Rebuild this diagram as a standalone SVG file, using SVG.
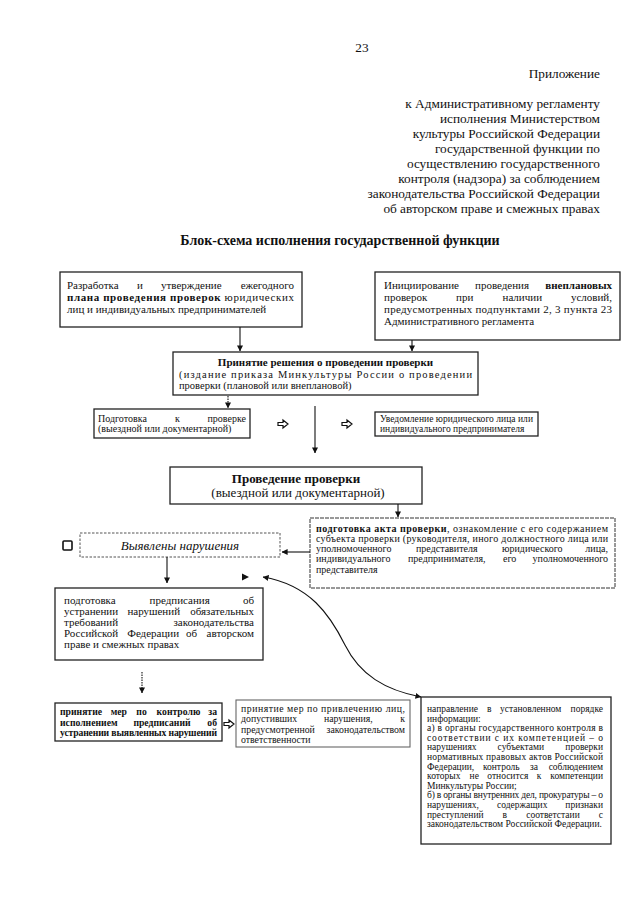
<svg xmlns="http://www.w3.org/2000/svg" width="640" height="905" viewBox="0 0 640 905">
<defs>
<marker id="ah" viewBox="0 0 8 8" refX="7.5" refY="4" markerWidth="6" markerHeight="6" markerUnits="userSpaceOnUse" orient="auto-start-reverse">
<path d="M0,0 L8,4 L0,8 z" fill="#111"/>
</marker>
<style>
.t{font-family:"Liberation Serif","Times New Roman",serif;fill:#111}
.box{fill:#fff;stroke:#222;stroke-width:1.3}
.dash{fill:#fff;stroke:#555;stroke-width:1;stroke-dasharray:2.5 1.5}
.gray{fill:#fff;stroke:#666;stroke-width:1.1}
.ln{fill:none;stroke:#111;stroke-width:1.1}
.dot{fill:none;stroke:#111;stroke-width:1.1;stroke-dasharray:1.5 1}
.ha{fill:#fff;stroke:#111;stroke-width:1.2}
.b{font-weight:bold}
</style>
</defs>
<rect width="640" height="905" fill="#fff"/>

<g id="header" class="t" font-size="13.3" text-anchor="end">
<text x="362" y="52" text-anchor="middle">23</text>
<text x="600" y="78">Приложение</text>
<text x="600" y="108">к Административному регламенту</text>
<text x="600" y="123">исполнения Министерством</text>
<text x="600" y="138">культуры Российской Федерации</text>
<text x="600" y="153">государственной функции по</text>
<text x="600" y="168">осуществлению государственного</text>
<text x="600" y="183">контроля (надзора) за соблюдением</text>
<text x="600" y="198">законодательства Российской Федерации</text>
<text x="600" y="213">об авторском праве и смежных правах</text>
</g>
<text id="title" class="t b" x="340" y="245" font-size="14" text-anchor="middle">Блок-схема исполнения государственной функции</text>

<g id="n-plan" class="t" font-size="11">
<rect class="box" x="60" y="272" width="242" height="55"/>
<text y="288.5"><tspan x="67">Разработка</tspan><tspan x="137">и</tspan><tspan x="161">утверждение</tspan><tspan x="294" text-anchor="end">ежегодного</tspan></text>
<text x="67" y="300.5" textLength="227" lengthAdjust="spacing"><tspan class="b">плана проведения проверок</tspan> юридических</text>
<text x="67" y="312.5">лиц и индивидуальных предпринимателей</text>
</g>

<g id="n-unplanned" class="t" font-size="11">
<rect class="box" x="375" y="272" width="245" height="68"/>
<text y="288.5"><tspan x="384">Инициирование</tspan><tspan x="475">проведения</tspan><tspan x="612" text-anchor="end" class="b">внеплановых</tspan></text>
<text y="300.5"><tspan x="384">проверок</tspan><tspan x="456">при</tspan><tspan x="502.5">наличии</tspan><tspan x="612" text-anchor="end">условий,</tspan></text>
<text x="384" y="312.5" textLength="228" lengthAdjust="spacing">предусмотренных подпунктами 2, 3 пункта 23</text>
<text x="384" y="324.5">Административного регламента</text>
</g>

<g id="n-decision" class="t" font-size="10.5">
<rect class="box" x="173" y="352" width="305" height="43"/>
<text x="325.5" y="366" class="b" font-size="11" text-anchor="middle">Принятие решения о проведении проверки</text>
<text x="179" y="377.5" textLength="293" lengthAdjust="spacing">(издание приказа Минкультуры России о проведении</text>
<text x="179" y="388.5">проверки (плановой или внеплановой)</text>
</g>

<g id="n-prep" class="t" font-size="10">
<rect class="box" x="94" y="409" width="156" height="29"/>
<text y="421.5"><tspan x="98">Подготовка</tspan><tspan x="175">к</tspan><tspan x="246" text-anchor="end">проверке</tspan></text>
<text x="98" y="432">(выездной или документарной)</text>
</g>

<g id="n-notify" class="t" font-size="9.5">
<rect class="box" x="375" y="412" width="163" height="24"/>
<text x="380" y="422" textLength="153" lengthAdjust="spacing">Уведомление юридического лица или</text>
<text x="380" y="431.5">индивидуального предпринимателя</text>
</g>

<g id="n-inspection" class="t" font-size="13">
<rect class="box" x="170" y="467" width="252" height="37"/>
<text x="296" y="482.5" class="b" text-anchor="middle">Проведение проверки</text>
<text x="298" y="496.5" text-anchor="middle">(выездной или документарной)</text>
</g>

<g id="n-act" class="t" font-size="10">
<rect class="dash" x="310" y="518" width="305" height="70" style="stroke:#333;stroke-dasharray:4 1"/>
<text x="316" y="531.5" textLength="292" lengthAdjust="spacing"><tspan class="b">подготовка акта проверки</tspan>, ознакомление с его содержанием</text>
<text x="316" y="541.8" textLength="292" lengthAdjust="spacing">субъекта проверки (руководителя, иного должностного лица или</text>
<text y="552.1"><tspan x="316">уполномоченного</tspan><tspan x="416">представителя</tspan><tspan x="502">юридического</tspan><tspan x="608" text-anchor="end">лица,</tspan></text>
<text y="562.4"><tspan x="316">индивидуального</tspan><tspan x="408">предпринимателя,</tspan><tspan x="503">его</tspan><tspan x="608" text-anchor="end">уполномоченного</tspan></text>
<text x="316" y="572.7">представителя</text>
</g>

<g id="n-violations" class="t">
<rect x="63" y="541" width="9" height="9" rx="1" fill="#fff" stroke="#111" stroke-width="1.6"/>
<rect class="dash" x="80" y="533" width="200" height="24"/>
<text x="180" y="549.5" font-size="13" font-style="italic" text-anchor="middle">Выявлены нарушения</text>
</g>

<g id="n-order" class="t" font-size="11">
<rect class="box" x="55" y="588" width="208" height="72"/>
<text y="603.5"><tspan x="64">подготовка</tspan><tspan x="149.6">предписания</tspan><tspan x="254" text-anchor="end">об</tspan></text>
<text y="614.5"><tspan x="64">устранении</tspan><tspan x="127.4">нарушений</tspan><tspan x="254" text-anchor="end">обязательных</tspan></text>
<text y="625.5"><tspan x="64">требований</tspan><tspan x="254" text-anchor="end">законодательства</tspan></text>
<text y="636.5"><tspan x="64">Российской</tspan><tspan x="127.2">Федерации</tspan><tspan x="185.9">об</tspan><tspan x="254" text-anchor="end">авторском</tspan></text>
<text x="64" y="647.5">праве и смежных правах</text>
</g>

<g id="n-control" class="t b" font-size="9.7">
<rect class="box" x="55" y="703" width="167" height="38"/>
<text y="715"><tspan x="60">принятие</tspan><tspan x="110.7">мер</tspan><tspan x="136.3">по</tspan><tspan x="156.6">контролю</tspan><tspan x="217" text-anchor="end">за</tspan></text>
<text y="725.5"><tspan x="60">исполнением</tspan><tspan x="133.4">предписаний</tspan><tspan x="217" text-anchor="end">об</tspan></text>
<text x="60" y="736" textLength="157" lengthAdjust="spacing">устранении выявленных нарушений</text>
</g>

<g id="n-liability" class="t" font-size="9.8">
<rect class="gray" x="236" y="700" width="174" height="47"/>
<text x="241" y="712" textLength="164" lengthAdjust="spacing">принятие мер по привлечению лиц,</text>
<text y="722.3"><tspan x="241">допустивших</tspan><tspan x="324">нарушения,</tspan><tspan x="405" text-anchor="end">к</tspan></text>
<text y="732.6"><tspan x="241">предусмотренной</tspan><tspan x="405" text-anchor="end">законодательством</tspan></text>
<text x="241" y="742.9">ответственности</text>
</g>

<g id="n-inform" class="t" font-size="9.5">
<rect class="box" x="421" y="697" width="190" height="147"/>
<text y="712"><tspan x="427">направление</tspan><tspan x="487">в</tspan><tspan x="500">установленном</tspan><tspan x="603" text-anchor="end">порядке</tspan></text>
<text x="427" y="721.6">информации:</text>
<text x="427" y="731.2" textLength="176" lengthAdjust="spacing">а) в органы государственного контроля в</text>
<text x="427" y="740.8" textLength="176" lengthAdjust="spacing">соответствии с их компетенцией – о</text>
<text y="750.4"><tspan x="427">нарушениях</tspan><tspan x="497.6">субъектами</tspan><tspan x="603" text-anchor="end">проверки</tspan></text>
<text x="427" y="760" textLength="176" lengthAdjust="spacing">нормативных правовых актов Российской</text>
<text y="769.6"><tspan x="427">Федерации,</tspan><tspan x="482.9">контроль</tspan><tspan x="530.1">за</tspan><tspan x="603" text-anchor="end">соблюдением</tspan></text>
<text y="779.2"><tspan x="427">которых</tspan><tspan x="469.6">не</tspan><tspan x="487.3">относится</tspan><tspan x="536.7">к</tspan><tspan x="603" text-anchor="end">компетенции</tspan></text>
<text x="427" y="788.8">Минкультуры России;</text>
<text x="427" y="798.4" textLength="176" lengthAdjust="spacing">б) в органы внутренних дел, прокуратуры – о</text>
<text y="808"><tspan x="427">нарушениях,</tspan><tspan x="497">содержащих</tspan><tspan x="603" text-anchor="end">признаки</tspan></text>
<text y="817.6"><tspan x="427">преступлений</tspan><tspan x="502.6">в</tspan><tspan x="526.2">соответстаии</tspan><tspan x="603" text-anchor="end">с</tspan></text>
<text x="427" y="827.2">законодательством Российской Федерации.</text>
</g>

<g id="connectors">
<line class="ln" x1="240" y1="327" x2="240" y2="351" marker-end="url(#ah)"/>
<line class="ln" x1="412" y1="340" x2="412" y2="351" marker-end="url(#ah)"/>
<line class="dot" x1="228" y1="396" x2="228" y2="408" marker-end="url(#ah)"/>
<line class="ln" x1="315" y1="406" x2="315" y2="453" marker-end="url(#ah)"/>
<path class="ha" d="M278,422.5 h5 v-2.5 l5,4 l-5,4 v-2.5 h-5 z"/>
<path class="ha" d="M342,422.5 h5 v-2.5 l5,4 l-5,4 v-2.5 h-5 z"/>
<line class="ln" x1="398" y1="504" x2="398" y2="517" marker-end="url(#ah)"/>
<line class="ln" x1="310" y1="552" x2="282" y2="552" marker-end="url(#ah)"/>
<line class="ln" x1="167" y1="557" x2="167" y2="583" marker-end="url(#ah)"/>
<polygon points="242,573.5 249,577 242,580.5" fill="#111"/>
<path class="ln" d="M263,577 C310,585 330,615 345,645 S385,690 421,697" marker-start="url(#ah)" marker-end="url(#ah)"/>
<line class="dot" x1="142" y1="672" x2="142" y2="693" marker-end="url(#ah)"/>
<path class="ha" d="M224,722.5 h5 v-2.5 l5,4 l-5,4 v-2.5 h-5 z"/>
</g>
</svg>
